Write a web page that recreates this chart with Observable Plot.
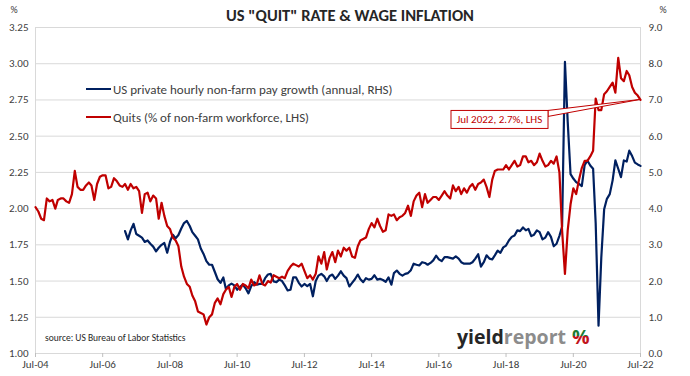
<!DOCTYPE html>
<html><head><meta charset="utf-8">
<script src="https://cdn.jsdelivr.net/npm/d3@7"></script>
<script src="https://cdn.jsdelivr.net/npm/@observablehq/plot@0.6"></script>
<style>
body{margin:0;background:#fff;}
#chart{width:690px;height:376px;}
</style></head><body><div id="chart"></div>
<script>
// Quits rate (% of non-farm workforce, LHS), monthly from Jul 2004 to Jul 2022
const quits = [
2.01,1.98,1.93,1.92,2.07,2.05,2.06,2.00,2.06,2.07,2.07,2.05,
2.04,2.10,2.26,2.15,2.13,2.13,2.16,2.18,2.16,2.06,2.17,2.22,
2.23,2.23,2.14,2.15,2.21,2.19,2.16,2.15,2.17,2.13,2.17,2.14,
2.15,2.12,1.97,2.10,2.11,2.05,2.09,2.07,1.93,2.04,1.95,1.88,
1.86,1.80,1.78,1.74,1.60,1.53,1.48,1.46,1.40,1.36,1.29,1.28,
1.27,1.20,1.25,1.27,1.35,1.38,1.34,1.41,1.44,1.46,1.39,1.46,
1.48,1.44,1.48,1.47,1.45,1.51,1.47,1.48,1.54,1.48,1.47,1.50,
1.49,1.54,1.53,1.52,1.53,1.52,1.57,1.60,1.62,1.61,1.60,1.62,
1.57,1.52,1.54,1.51,1.55,1.67,1.62,1.70,1.58,1.66,1.70,1.63,
1.71,1.67,1.73,1.71,1.73,1.67,1.66,1.74,1.78,1.79,1.80,1.86,
1.90,1.87,1.93,1.88,1.84,1.85,1.96,1.95,1.96,1.92,1.94,1.95,
1.97,2.02,1.95,2.05,2.09,2.11,2.01,2.10,2.04,2.06,2.08,2.08,
2.06,2.09,2.12,2.09,2.07,2.16,2.12,2.15,2.10,2.14,2.11,2.15,
2.17,2.13,2.17,2.18,2.20,2.15,2.08,2.20,2.26,2.27,2.27,2.27,
2.30,2.27,2.30,2.33,2.29,2.30,2.36,2.36,2.32,2.33,2.30,2.32,
2.38,2.33,2.29,2.30,2.33,2.31,2.36,2.25,1.85,1.55,1.85,2.03,
2.14,2.10,2.20,2.28,2.33,2.33,2.36,2.40,2.76,2.68,2.68,2.79,
2.81,2.84,2.87,2.80,3.04,2.90,2.88,2.95,2.92,2.84,2.80,2.78,
2.75];
const quitsStart = [2004, 6]; // Jul 2004 (year, month index)

// US private hourly non-farm pay growth (annual %, RHS), monthly from Mar 2007 to Jul 2022
const wage = [
3.38,3.15,3.40,3.58,3.30,3.25,3.20,3.08,3.12,3.03,2.95,2.82,
2.92,3.00,3.05,2.78,3.08,3.28,3.18,3.27,3.45,3.60,3.66,3.52,
3.35,3.25,3.15,2.90,2.75,2.55,2.45,2.45,2.25,2.05,1.95,2.10,
1.78,1.88,1.93,1.88,1.76,1.84,1.90,1.80,1.66,1.86,1.97,1.90,
1.92,1.92,2.08,2.18,2.20,1.99,1.97,2.04,2.00,1.88,1.74,1.76,
2.10,2.10,1.95,1.85,1.92,1.86,1.92,1.58,2.00,2.15,2.20,2.13,
2.00,2.14,2.18,2.06,2.15,2.27,2.15,2.08,1.85,1.95,2.05,2.18,
2.05,1.97,2.08,2.04,2.06,2.16,2.04,2.06,2.03,1.98,2.10,1.90,
2.22,2.29,2.20,2.15,2.20,2.22,2.30,2.48,2.45,2.43,2.52,2.50,
2.45,2.50,2.57,2.70,2.60,2.55,2.66,2.66,2.64,2.62,2.68,2.62,
2.52,2.48,2.48,2.48,2.52,2.62,2.74,2.40,2.52,2.71,2.62,2.60,
2.71,2.84,2.78,2.93,2.98,3.12,3.22,3.26,3.40,3.38,3.48,3.40,
3.44,3.24,3.28,3.40,3.35,3.15,3.20,3.35,3.22,2.96,3.03,3.25,
3.50,8.05,6.40,4.95,4.83,4.73,4.68,4.62,5.20,5.33,5.19,5.10,
3.60,0.77,2.65,3.98,4.27,4.40,4.78,5.33,5.10,4.87,5.33,5.30,
5.60,5.45,5.27,5.22,5.18];
const wageStart = [2007, 2]; // Mar 2007

const xTickYears = [2004,2006,2008,2010,2012,2014,2016,2018,2020,2022];
const xTickLabels = ["Jul-04","Jul-06","Jul-08","Jul-10","Jul-12","Jul-14","Jul-16","Jul-18","Jul-20","Jul-22"];
const leftTicks = [1.00,1.25,1.50,1.75,2.00,2.25,2.50,2.75,3.00,3.25];
const rightTicks = [0,1,2,3,4,5,6,7,8,9];

const title = 'US "QUIT" RATE & WAGE INFLATION';
const legendLabels = ["US private hourly non-farm pay growth (annual, RHS)", "Quits (% of non-farm workforce, LHS)"];
const calloutText = "Jul 2022, 2.7%, LHS";
const sourceText = "source: US Bureau of Labor Statistics";

const RED = "#C00000", BLUE = "#002060", GRID = "#d9d9d9", TXT = "#404040";
const FONT = "Carlito, Calibri, Lato, sans-serif";

const monthDate = (start, i) => new Date(Date.UTC(start[0], start[1] + i, 1));
const quitsData = quits.map((v, i) => ({date: monthDate(quitsStart, i), value: v}));
const wageData = wage.map((v, i) => ({date: monthDate(wageStart, i), value: v}));
// right axis (0-9) maps onto left axis (1-3.25)
const toLeft = r => 1 + r / 4;

const xTicks = xTickYears.map(y => new Date(Date.UTC(y, 6, 1)));
const xLabelMap = new Map(xTicks.map((d, i) => [+d, xTickLabels[i]]));
const rightLabelMap = new Map(rightTicks.map(t => [toLeft(t), t.toFixed(1)]));

const chart = Plot.plot({
  width: 690, height: 376,
  marginTop: 27, marginBottom: 23, marginLeft: 35, marginRight: 50,
  style: {fontFamily: FONT, fontSize: "11px", color: TXT, background: "#fff"},
  x: {type: "utc", domain: [xTicks[0], xTicks[xTicks.length - 1]]},
  y: {domain: [leftTicks[0], leftTicks[leftTicks.length - 1]]},
  marks: [
    Plot.gridY(leftTicks, {stroke: GRID, strokeOpacity: 1}),
    Plot.frame({stroke: GRID}),
    Plot.axisY(leftTicks, {anchor: "left", tickSize: 0, tickPadding: 7, tickFormat: d3.format(".2f"), label: null}),
    Plot.axisY(rightTicks.map(toLeft), {anchor: "right", tickSize: 0, tickPadding: 8, tickFormat: d => rightLabelMap.get(d), label: null}),
    Plot.axisX(xTicks, {tickSize: 4, tickPadding: 3, tickFormat: d => xLabelMap.get(+d), label: null}),
    Plot.line(wageData, {x: "date", y: d => toLeft(d.value), stroke: BLUE, strokeWidth: 2.2}),
    Plot.line(quitsData, {x: "date", y: "value", stroke: RED, strokeWidth: 2.2})
  ]
});
document.getElementById("chart").appendChild(chart);

const svg = d3.select(chart);
svg.selectAll('[aria-label="x-axis tick"] path').attr("stroke", "#bfbfbf");
const xs = chart.scale("x"), ys = chart.scale("y");
const extra = svg.append("g").attr("text-anchor", "start").attr("font-family", FONT);

// title and unit labels
extra.append("text").attr("x", 350).attr("y", 21).attr("text-anchor", "middle")
  .attr("font-weight", "bold").attr("font-size", 16.5).attr("fill", "#262626").text(title);
extra.append("text").attr("x", 14).attr("y", 13).attr("text-anchor", "middle").attr("font-size", 10).attr("fill", TXT).text("%");
extra.append("text").attr("x", 663).attr("y", 13).attr("text-anchor", "middle").attr("font-size", 10).attr("fill", TXT).text("%");

// legend
const leg = extra.append("g").attr("font-size", 13).attr("fill", TXT);
[[BLUE, 89, legendLabels[0]], [RED, 117, legendLabels[1]]].forEach(([c, y, t]) => {
  leg.append("line").attr("x1", 86).attr("x2", 111).attr("y1", y).attr("y2", y).attr("stroke", c).attr("stroke-width", 2);
  leg.append("text").attr("x", 113).attr("y", y).attr("dy", "0.35em").attr("text-anchor", "start").text(t);
});

// callout for last quits value
const last = quitsData[quitsData.length - 1];
const px = xs.apply(last.date), py = ys.apply(last.value);
const bx0 = px - 189, bx1 = px - 92, by0 = py + 11, by1 = py + 29;
extra.append("path").attr("d", `M${px},${py}L${bx1},${by0}L${bx1},${by0 + 6}Z`).attr("fill", "#fff").attr("stroke", RED).attr("stroke-width", 1);
extra.append("rect").attr("x", bx0).attr("y", by0).attr("width", bx1 - bx0).attr("height", by1 - by0).attr("fill", "#fff").attr("stroke", RED);
extra.append("text").attr("x", (bx0 + bx1) / 2).attr("y", (by0 + by1) / 2).attr("dy", "0.35em").attr("text-anchor", "middle")
  .attr("font-size", 11).attr("fill", RED).text(calloutText);

// source
extra.append("text").attr("x", 45).attr("y", 338).attr("dy", "0.35em").attr("text-anchor", "start").attr("font-size", 9.5).attr("fill", "#262626").text(sourceText);

// logo
const defs = svg.append("defs");
const grad = defs.append("linearGradient").attr("id", "pctgrad").attr("x1", 0).attr("x2", 0).attr("y1", 0).attr("y2", 1);
grad.append("stop").attr("offset", "0.5").attr("stop-color", "#1e7b34");
grad.append("stop").attr("offset", "0.5").attr("stop-color", "#c0141c");
const logo = extra.append("text").attr("x", 457).attr("y", 344).attr("text-anchor", "start").attr("font-family", "'Open Sans', sans-serif").attr("font-weight", "bold").attr("font-size", 19.5);
logo.append("tspan").attr("fill", "#262626").text("yield");
logo.append("tspan").attr("fill", "#8c8c8c").text("report");
logo.append("tspan").attr("dx", 6).attr("fill", "url(#pctgrad)").text("%");
</script>
</body></html>
